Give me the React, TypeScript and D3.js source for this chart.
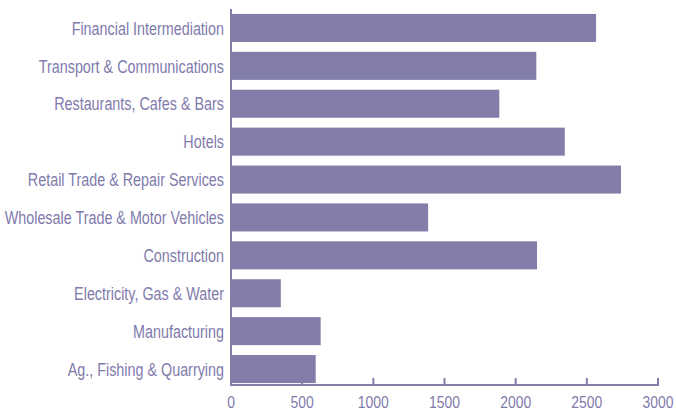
import React from "react";
import * as d3 from "d3";

const categories = [
  "Financial Intermediation",
  "Transport & Communications",
  "Restaurants, Cafes & Bars",
  "Hotels",
  "Retail Trade & Repair Services",
  "Wholesale Trade & Motor Vehicles",
  "Construction",
  "Electricity, Gas & Water",
  "Manufacturing",
  "Ag., Fishing & Quarrying",
];
const values = [2565, 2145, 1885, 2345, 2740, 1385, 2150, 350, 630, 595];
const xTicks = [0, 500, 1000, 1500, 2000, 2500, 3000];

const W = 676;
const H = 410;
const color = "#827ea9";
const textColor = "#7f7bac";
const font = "'Liberation Sans', Arial, sans-serif";
const squeeze = 0.82;

export default function App() {
  const x = d3.scaleLinear().domain([0, 3000]).range([231, 658]);
  const y = d3.scaleBand<string>().domain(categories).range([9, 388]).paddingInner(0.26).paddingOuter(0.13);
  const axisY = 385;
  return (
    <svg width={W} height={H} style={{ position: "absolute", left: 0, top: 0 }}>
      {categories.map((c, i) => (
        <g key={c}>
          <rect x={x(0)} y={y(c)!} width={x(values[i]) - x(0)} height={y.bandwidth()} fill={color} />
          <text
            transform={`translate(224,${y(c)! + y.bandwidth() / 2}) scale(${squeeze},1)`}
            dy="0.38em"
            textAnchor="end"
            fill={textColor}
            fontFamily={font}
            fontSize={17.5}
          >
            {c}
          </text>
        </g>
      ))}
      <line x1={x(0)} x2={x(0)} y1={9} y2={axisY + 1} stroke={color} strokeWidth={2} />
      <line x1={x(0)} x2={x(3000) + 1} y1={axisY} y2={axisY} stroke={color} strokeWidth={2} />
      {xTicks.map((t) => (
        <g key={t}>
          <line x1={x(t)} x2={x(t)} y1={axisY - 7} y2={axisY} stroke={color} strokeWidth={2} />
          <text
            transform={`translate(${x(t)},408) scale(${squeeze},1)`}
            textAnchor="middle"
            fill={textColor}
            fontFamily={font}
            fontSize={17}
          >
            {t}
          </text>
        </g>
      ))}
    </svg>
  );
}
